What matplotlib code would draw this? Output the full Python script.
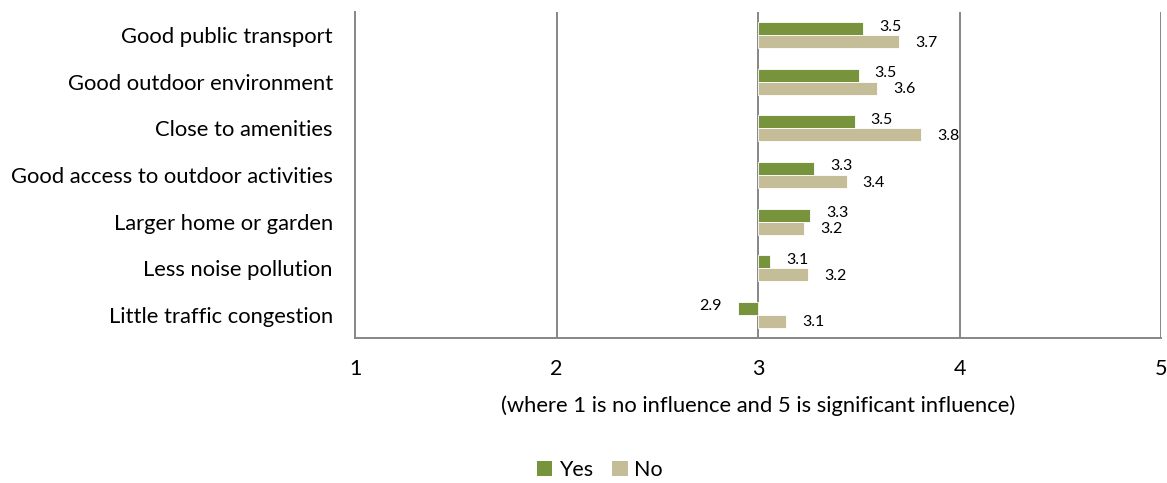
import matplotlib
matplotlib.use("Agg")
import matplotlib.pyplot as plt
import numpy as np
from matplotlib.patches import Patch
from matplotlib import transforms

categories = ["Good public transport", "Good outdoor environment", "Close to amenities",
              "Good access to outdoor activities", "Larger home or garden",
              "Less noise pollution", "Little traffic congestion"]
yes_vals = [3.52, 3.50, 3.48, 3.28, 3.26, 3.06, 2.90]
no_vals = [3.70, 3.59, 3.81, 3.44, 3.23, 3.25, 3.14]
xticks = [1, 2, 3, 4, 5]
xlabel = "(where 1 is no influence and 5 is significant influence)"
base = 3

plt.rcParams['font.family'] = ['Lato', 'DejaVu Sans']

fig = plt.figure(figsize=(11.67, 4.83), dpi=100)
ax = fig.add_axes([355/1167, 1-338/483, (1161-355)/1167, (338-12)/483])

green = "#77933C"
tan = "#C4BD97"
grid = "#868686"

y = np.arange(len(categories))
h = 0.28
ax.barh(y - h/2, np.array(yes_vals) - base, left=base, height=h, color=green,
        edgecolor="white", linewidth=0.6, zorder=3)
ax.barh(y + h/2, np.array(no_vals) - base, left=base, height=h, color=tan,
        edgecolor="white", linewidth=0.6, zorder=3)

for i in range(len(categories)):
    for v, dy, dyp in [(yes_vals[i], -h/2, 2), (no_vals[i], h/2, -1)]:
        off = 16 if v >= base else -16
        tr = ax.transData + transforms.ScaledTranslation(off/100, dyp/100, fig.dpi_scale_trans)
        ax.text(v, y[i] + dy, f"{v:.1f}", transform=tr, fontsize=11.5,
                ha="left" if v >= base else "right", va="center", color="#000000", zorder=4)

ax.set_xlim(1, 5)
ax.set_ylim(len(categories) - 0.5, -0.5)
ax.set_yticks(y)
ax.set_yticklabels(categories, fontsize=15.8)
ax.set_xticks(xticks)
ax.set_xticklabels([str(t) for t in xticks], fontsize=15.5)
ax.tick_params(axis='both', length=0)
ax.tick_params(axis='y', pad=16)
ax.tick_params(axis='x', pad=15)
ax.set_xlabel(xlabel, fontsize=15.8, labelpad=12)

for xv in [2, 3, 4, 5]:
    ax.axvline(xv, color=grid, linewidth=1.4, zorder=1)
for s in ["top", "right"]:
    ax.spines[s].set_visible(False)
ax.spines["left"].set_color(grid)
ax.spines["left"].set_linewidth(1.4)
ax.spines["bottom"].set_color(grid)
ax.spines["bottom"].set_linewidth(1.4)

handles = [Patch(facecolor=green, label="Yes"), Patch(facecolor=tan, label="No")]
fig.legend(handles=handles, loc="center", bbox_to_anchor=(600/1167, 1-470/483), ncol=2,
           frameon=False, fontsize=15.5, handlelength=0.7, handleheight=0.7,
           handletextpad=0.3, columnspacing=0.9, borderpad=0.2)

fig.savefig("out.png", dpi=100)
